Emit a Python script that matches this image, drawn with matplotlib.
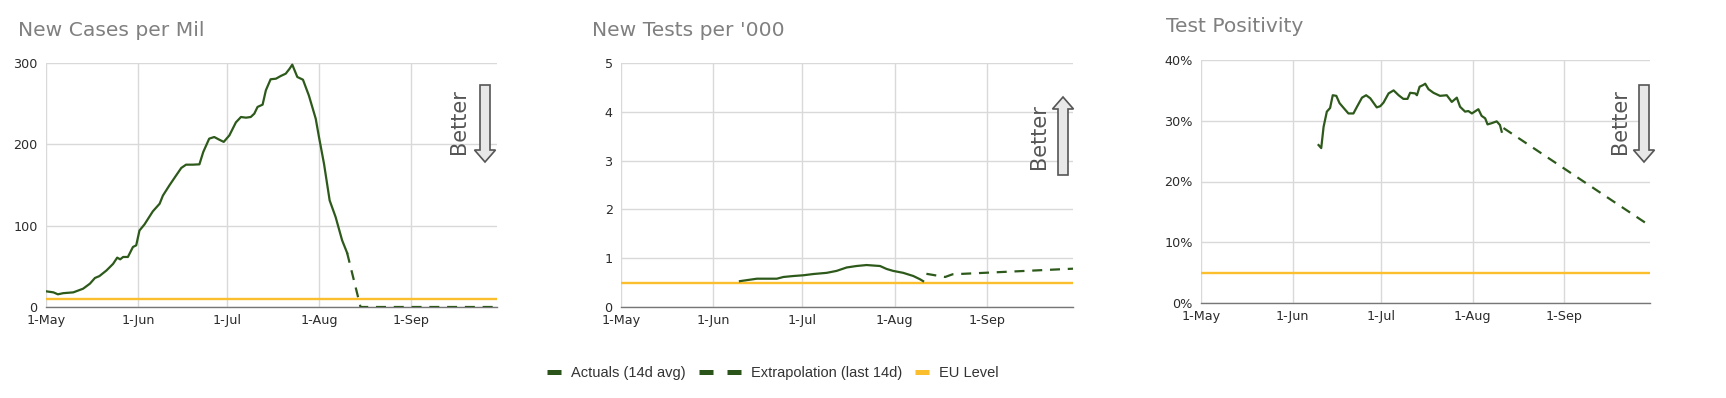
import matplotlib
matplotlib.use("Agg")
import matplotlib.pyplot as plt
from matplotlib.patches import Polygon
from matplotlib.lines import Line2D
import pandas as pd

# ---------------- data ----------------
start = pd.Timestamp("2020-05-01")
x_end_day = 152
tick_days = [0, 31, 61, 92, 123]
tick_labels = ["1-May", "1-Jun", "1-Jul", "1-Aug", "1-Sep"]

cases_days = [0, 2.5, 4, 5.8, 9.2, 12.5, 14.8, 16.5, 18, 20.4, 22.6, 24, 25, 26, 27.6, 29.3,
              30.4, 31.5, 33.2, 36, 38.3, 39.4, 41.6, 43.9, 45.6, 47.2, 49.5, 51.7, 53, 55,
              56.7, 58.4, 59.9, 61.8, 64, 65.7, 67.4, 69, 70.2, 71.3, 73, 74.1, 75.7, 77.5,
              79.1, 80.8, 82.1, 83, 84.7, 86.6, 88.6, 90.9, 92, 93.7, 95.6, 97.6, 99.8, 101.5]
cases_vals = [19.3, 18, 15.6, 17, 18, 22.5, 28.7, 35.7, 38, 45, 53, 60.7, 58.6, 61.5, 61.5, 73.8,
              75.8, 94, 101.6, 117.6, 127, 137, 149.6, 162, 171, 175, 175, 175.4, 190.6, 207,
              209, 205.7, 203, 211, 227, 233.6, 232.8, 233.6, 237.7, 246, 248.8, 266.4, 280, 280.7,
              284, 286.9, 293, 298, 282.8, 279.5, 260, 231.6, 209, 176, 131, 110.7, 82, 66.4]
cases_ext_days = [101.5, 106, 152]
cases_ext_vals = [66.4, 0, 0]
cases_eu = 9.4

tests_days = [40, 42.3, 45.7, 49, 52.4, 54.6, 58, 61.3, 64.7, 69.2, 72.5, 75.9, 79.2, 82.6,
              84.8, 87.1, 89.3, 91.5, 94.9, 98.3, 100.5, 101.6]
tests_vals = [0.53, 0.55, 0.58, 0.58, 0.58, 0.615, 0.635, 0.65, 0.676, 0.70, 0.74, 0.81, 0.84, 0.86,
              0.85, 0.84, 0.78, 0.74, 0.70, 0.635, 0.57, 0.53]
tests_ext_days = [102.7, 109, 111.5, 152]
tests_ext_vals = [0.68, 0.615, 0.67, 0.785]
tests_eu = 0.5

pos_days = [39.8, 40.7, 41.5, 42.6, 43.7, 44.6, 45.8, 46.9, 48.3, 49.9, 51.6, 52.8, 54.5, 55.9,
            57.3, 59.5, 60.7, 61.8, 63.5, 65.2, 66.9, 68.5, 69.9, 70.8, 72.5, 73.1, 74, 75.3,
            75.9, 77, 78.7, 80.9, 83.2, 84.9, 86.6, 87.7, 89.4, 90.5, 91.7, 93.9, 95, 96.2, 97,
            98.4, 100.1, 101.2, 101.8]
pos_vals = [26.0, 25.5, 29.0, 31.5, 32.1, 34.2, 34.1, 32.9, 32.1, 31.2, 31.2, 32.3, 33.8, 34.2,
            33.7, 32.2, 32.4, 33.0, 34.5, 35.0, 34.2, 33.6, 33.6, 34.6, 34.5, 34.2, 35.6, 35.9,
            36.1, 35.2, 34.6, 34.1, 34.2, 33.1, 33.8, 32.3, 31.5, 31.6, 31.2, 31.9, 30.8, 30.4, 29.4,
            29.6, 29.9, 29.3, 28.2]
pos_ext_days = [102.4, 152]
pos_ext_vals = [28.8, 12.7]
pos_eu = 5.0

titles = ["New Cases per Mil", "New Tests per '000", "Test Positivity"]
legend_labels = ["Actuals (14d avg)", "Extrapolation (last 14d)", "EU Level"]

# ---------------- style ----------------
GREEN = "#2d5a1b"
LEG_GREEN = "#2a5419"
YELLOW = "#fbbf2d"
GRID = "#d9d9d9"

W, H = 1726, 398
fig = plt.figure(figsize=(W / 100, H / 100), dpi=100)


def d(days):
    return [start + pd.Timedelta(days=float(v)) for v in days]


def axes_px(l, t, r, b):
    return fig.add_axes([l / W, 1 - b / H, (r - l) / W, (b - t) / H])


def setup(ax, ymax, yticks, ylabels):
    ax.set_xlim(start, start + pd.Timedelta(days=x_end_day))
    ax.set_ylim(0, ymax)
    ax.set_xticks(d(tick_days))
    ax.set_xticklabels(tick_labels)
    ax.set_yticks(yticks)
    ax.set_yticklabels(ylabels)
    ax.grid(True, color=GRID, linewidth=1.0)
    ax.set_axisbelow(True)
    for s in ["left", "top", "right"]:
        ax.spines[s].set_visible(False)
    ax.spines["bottom"].set_color("#777777")
    ax.spines["bottom"].set_linewidth(1.0)
    ax.tick_params(length=0, labelsize=9.2, colors="#2b2b2b", pad=5)
    ax.tick_params(axis="y", pad=6)


def draw(ax, dd, vv, ed, ev, eu):
    ax.axhline(eu, color=YELLOW, linewidth=1.7, zorder=2)
    ax.plot(d(dd), vv, color=GREEN, linewidth=1.6, zorder=3, solid_joinstyle="round")
    ax.plot(d(ed), ev, color=GREEN, linewidth=1.6, linestyle=(0, (4.5, 3.5)), zorder=3)


def arrow(cx, top, bottom, up):
    # coordinates in figure pixels (y down)
    hw, sw, hl = 10.5, 5, 12
    if up:
        pts = [(cx, top), (cx + hw, top + hl), (cx + sw, top + hl), (cx + sw, bottom),
               (cx - sw, bottom), (cx - sw, top + hl), (cx - hw, top + hl)]
    else:
        pts = [(cx, bottom), (cx + hw, bottom - hl), (cx + sw, bottom - hl), (cx + sw, top),
               (cx - sw, top), (cx - sw, bottom - hl), (cx - hw, bottom - hl)]
    pts = [(x / 100, (H - y) / 100) for x, y in pts]
    fig.patches.append(Polygon(pts, closed=True, facecolor="#e8e8e8", edgecolor="#555555",
                               linewidth=1.2, transform=fig.dpi_scale_trans, zorder=5))


def better(x, yc):
    fig.text(x / W, 1 - yc / H, "Better", rotation=90, ha="center", va="center",
             fontsize=15, color="#555555")


# Panel 1
ax1 = axes_px(46, 63, 497, 307)
setup(ax1, 300, [0, 100, 200, 300], ["0", "100", "200", "300"])
draw(ax1, cases_days, cases_vals, cases_ext_days, cases_ext_vals, cases_eu)

# Panel 2
ax2 = axes_px(621, 63, 1073, 307)
setup(ax2, 5, [0, 1, 2, 3, 4, 5], ["0", "1", "2", "3", "4", "5"])
draw(ax2, tests_days, tests_vals, tests_ext_days, tests_ext_vals, tests_eu)

# Panel 3
ax3 = axes_px(1201, 60, 1650, 303)
setup(ax3, 40, [0, 10, 20, 30, 40], ["0%", "10%", "20%", "30%", "40%"])
draw(ax3, pos_days, pos_vals, pos_ext_days, pos_ext_vals, pos_eu)

# titles
for x, y, t in [(18, 30, titles[0]), (592, 30, titles[1]), (1166, 27, titles[2])]:
    fig.text(x / W, 1 - y / H, t, ha="left", va="center", fontsize=14.6, color="#808080")

# better arrows
better(459, 122)
arrow(485, 85, 162, up=False)
better(1039, 137)
arrow(1063, 97, 175, up=True)
better(1620, 122)
arrow(1644, 85, 162, up=False)

# legend: one entry per legend so each handle gets its own length
FS = 10.5
em = FS * 100 / 72.0  # px per em
handles = [Line2D([], [], color=LEG_GREEN, linewidth=3.6, solid_capstyle="butt"),
           Line2D([], [], color=LEG_GREEN, linewidth=3.6, linestyle=(0, (2.8, 2.8)),
                  dash_capstyle="butt"),
           Line2D([], [], color=YELLOW, linewidth=3.6, solid_capstyle="butt")]
starts = [547, 699, 915]
lengths = [14, 42, 14]
for h, lab, x0, ln in zip(handles, legend_labels, starts, lengths):
    leg = fig.legend([h], [lab], loc="center left", bbox_to_anchor=(x0 / W, 1 - 373 / H),
                     frameon=False, prop={"family": "Liberation Sans", "size": FS},
                     labelcolor="#333333", handlelength=ln / em, handletextpad=10 / em,
                     borderpad=0, borderaxespad=0)

fig.savefig("out.png", dpi=100)
